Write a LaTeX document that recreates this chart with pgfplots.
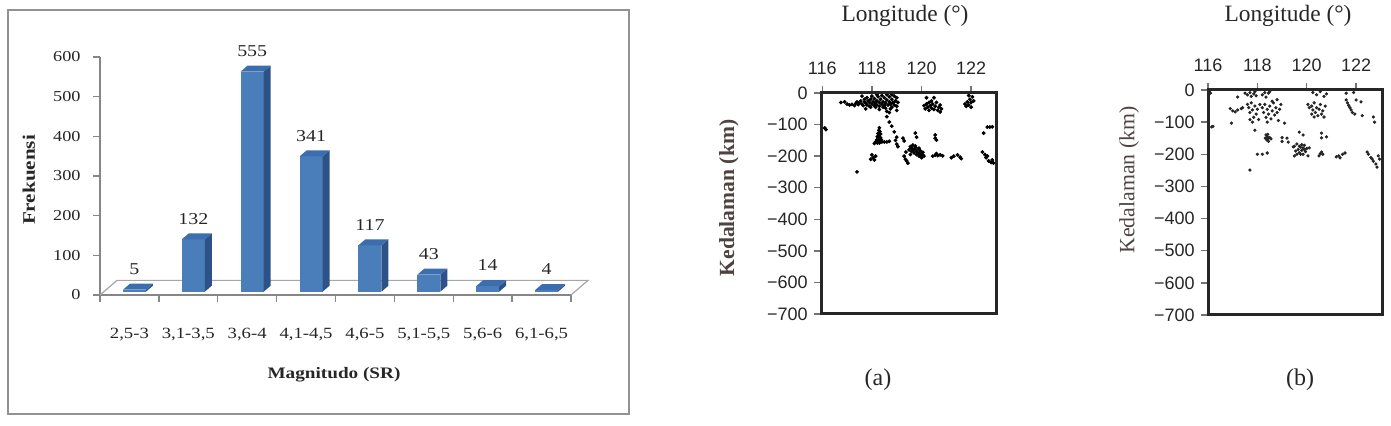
\documentclass[border=0pt]{standalone}
\usepackage{fontspec}
\setmainfont{Liberation Serif}
\newfontfamily\lsans{Liberation Sans}
\newfontfamily\wserif[FakeStretch=1.2]{Liberation Serif}
\usepackage{pgfplots}
\pgfplotsset{compat=1.18}

\definecolor{barfront}{HTML}{4A7EBB}
\definecolor{barside}{HTML}{2D5288}
\definecolor{bartop}{HTML}{3C6DAE}
\definecolor{chartgray}{HTML}{868686}
\definecolor{floorgray}{HTML}{A6A6A6}
\definecolor{labelbrown}{HTML}{4E4341}

% 3-D column: front face, right side and top, hung from the data point (i, value)
\pgfdeclareplotmark{prism}{%
  \pgfmathsetlengthmacro\yb{1.65-\barh*0.198333}%
  \pgfmathsetlengthmacro\ybb{4.65-\barh*0.198333}%
  \pgfsetfillcolor{barfront}%
  \pgfpathrectanglecorners{\pgfpoint{-3.25pt}{\yb}}{\pgfpoint{8.25pt}{1.65pt}}%
  \pgfusepath{fill}%
  \pgfsetfillcolor{barside}%
  \pgfpathmoveto{\pgfpoint{8.25pt}{\yb}}%
  \pgfpathlineto{\pgfpoint{11.75pt}{\ybb}}%
  \pgfpathlineto{\pgfpoint{11.75pt}{4.65pt}}%
  \pgfpathlineto{\pgfpoint{8.25pt}{1.65pt}}%
  \pgfpathclose
  \pgfusepath{fill}%
  \pgfsetfillcolor{bartop}%
  \pgfpathmoveto{\pgfpoint{-3.25pt}{1.65pt}}%
  \pgfpathlineto{\pgfpoint{8.25pt}{1.65pt}}%
  \pgfpathlineto{\pgfpoint{11.75pt}{4.65pt}}%
  \pgfpathlineto{\pgfpoint{0.25pt}{4.65pt}}%
  \pgfpathclose
  \pgfusepath{fill}%
}

\pgfplotsset{
  depthaxis/.style={
    scale only axis,
    ymin=-700, ymax=0,
    xtick={116,118,120,122},
    ytick={-700,-600,...,0},
    yticklabels={−700,−600,−500,−400,−300,−200,−100,0},
    xtick pos=upper, xticklabel pos=upper, ytick pos=left,
    tick align=outside, major tick length=3.5pt,
    major tick style={black!55, line width=0.7pt},
    axis line style={line width=1.3pt, black!85},
    /pgf/number format/assume math mode=true,
    xticklabel style={font=\lsans\fontsize{9}{9}\selectfont, anchor=base, yshift=5.8pt, inner sep=0pt, text=black!85},
    yticklabel style={font=\lsans\fontsize{9}{9}\selectfont, anchor=east, xshift=-3pt, inner sep=0pt, text=black!85},
    clip=false,
  },
}

\begin{document}
\begin{tikzpicture}
\path[use as bounding box] (0,0) rectangle (695.5pt,213pt);

% ---------------- magnitude histogram ----------------
\draw[chartgray!90, line width=1pt] (4pt,6pt) rectangle (314.5pt,208pt);
\begin{axis}[
  name=hist,
  at={(50pt,65.5pt)}, anchor=south west,
  scale only axis, width=235.5pt, height=119pt,
  xmin=-0.5, xmax=7.5, ymin=0, ymax=600,
  axis lines*=left,
  axis line style={chartgray, line width=0.6pt},
  xtick={0,...,7},
  xticklabels={{2,5-3},{3,1-3,5},{3,6-4},{4,1-4,5},{4,6-5},{5,1-5,5},{5,6-6},{6,1-6,5}},
  major x tick style={draw=none},
  minor xtick={-0.5,0.5,...,7.5},
  ytick={0,100,...,600},
  tick align=outside, major tick length=3.5pt, minor tick length=3.5pt,
  minor x tick style={chartgray, line width=0.7pt},
  major y tick style={chartgray, line width=0.7pt},
  /pgf/number format/assume math mode=true,
  xticklabel style={font=\wserif\fontsize{7.8}{9}\selectfont, anchor=base, yshift=-18.2pt, inner sep=0pt, text=black!85},
  yticklabel style={font=\wserif\fontsize{7.6}{8}\selectfont, anchor=east, xshift=-6pt, inner sep=0pt, text=black!85},
  clip=false,
]
\draw[floorgray, line width=0.6pt] (axis cs:-0.5,0) -- ++(8.5pt,7.3pt)
  -- ([shift={(8.5pt,7.3pt)}]axis cs:7.5,0) -- (axis cs:7.5,0);
\addplot[scatter, only marks, mark=prism,
  point meta=y,
  visualization depends on={rawy\as\barh},
  scatter/@pre marker code/.code={},
  scatter/@post marker code/.code={},
  nodes near coords,
  nodes near coords style={font=\wserif\fontsize{8.3}{10}\selectfont, anchor=center,
    xshift=2.5pt, yshift=12pt, text=black!85},
] coordinates {(0,5) (1,132) (2,555) (3,341) (4,117) (5,43) (6,14) (7,4)};
\end{axis}
\node[rotate=90, font=\wserif\bfseries\fontsize{8.8}{10}\selectfont, text=black!85] at (14.5pt,123pt) {Frekuensi};
\node[font=\wserif\bfseries\fontsize{8}{10}\selectfont, text=black!85] at (167pt,25.5pt) {Magnitudo (SR)};

% ---------------- depth section (a) ----------------
\begin{axis}[depthaxis, name=secA,
  at={(410.5pt,56pt)}, anchor=south west, width=87.5pt, height=110.5pt,
  xmin=115.95, xmax=123,
]
\addplot[only marks, mark=*, mark size=0.75pt, black] coordinates {
(116.75,-30)(116.9,-28)(117.0,-35)(117.1,-38)(117.2,-36)(117.3,-40)(117.35,-33)(117.4,-28)
(117.45,-37)(117.5,-30)(117.55,-25)(117.6,-35)(117.6,-10)(117.65,-40)(117.7,-28)(117.7,-20)
(117.75,-32)(117.75,-50)(117.8,-38)(117.8,-15)(117.85,-25)(117.9,-30)(117.9,-42)(117.95,-20)
(117.95,-45)(118.0,-35)(118.0,-10)(118.05,-28)(118.1,-40)(118.1,-18)(118.15,-32)(118.15,-45)
(118.2,-25)(118.2,-38)(118.2,-5)(118.25,-12)(118.3,-30)(118.3,-42)(118.3,-52)(118.35,-20)
(118.4,-35)(118.4,-8)(118.45,-28)(118.45,-45)(118.5,-40)(118.5,-15)(118.55,-32)(118.55,-48)
(118.6,-22)(118.6,-5)(118.6,-58)(118.65,-38)(118.7,-28)(118.7,-12)(118.7,-62)(118.75,-35)
(118.75,-50)(118.8,-20)(118.8,-45)(118.8,-5)(118.85,-30)(118.9,-10)(118.9,-38)(118.95,-25)
(119.0,-42)(119.0,-15)(119.0,-55)(119.05,-30)
(118.6,-75)(118.7,-92)(118.8,-105)(118.9,-123)
(116.1,-111)(116.15,-116)
(120.1,-40)(120.15,-50)(120.2,-35)(120.2,-15)(120.25,-45)(120.3,-55)(120.3,-30)(120.35,-40)
(120.4,-48)(120.4,-25)(120.45,-35)(120.5,-52)(120.5,-15)(120.55,-42)(120.6,-30)(120.65,-55)
(120.7,-45)(120.75,-38)(120.75,-60)(120.8,-50)
(121.75,-35)(121.8,-42)(121.85,-28)(121.9,-38)(121.9,-8)(121.95,-20)(122.0,-30)(122.0,-45)
(122.05,-12)(122.1,-25)
(118.3,-110)(118.28,-118)(118.32,-122)(118.25,-128)(118.3,-132)(118.35,-130)(118.22,-138)
(118.28,-140)(118.35,-142)(118.2,-148)(118.25,-150)(118.3,-152)(118.38,-148)(118.15,-155)
(118.22,-158)(118.3,-158)(118.4,-155)(118.1,-160)(118.5,-155)(118.6,-155)(118.7,-153)
(118.95,-150)(119.0,-140)(119.0,-162)(119.05,-170)(119.25,-143)(119.3,-152)(119.37,-187)
(119.3,-200)(119.35,-210)(119.4,-215)(119.45,-222)
(118.0,-196)(118.05,-205)(118.15,-200)(117.95,-210)(118.1,-212)
(117.4,-250)
(119.75,-127)(119.8,-140)(120.55,-133)(120.55,-143)(120.6,-149)
(119.5,-180)(119.55,-170)(119.55,-195)(119.6,-175)(119.6,-185)(119.65,-165)(119.65,-178)
(119.7,-180)(119.7,-190)(119.75,-172)(119.75,-168)(119.8,-185)(119.8,-195)(119.85,-178)
(119.85,-192)(119.9,-190)(119.9,-200)(119.9,-175)(119.95,-183)(119.95,-198)(120.0,-195)
(120.0,-205)(120.05,-188)(120.05,-196)(120.1,-200)
(120.45,-200)(120.55,-197)(120.6,-192)(120.65,-198)(120.75,-196)(120.85,-199)
(121.2,-205)(121.3,-200)(121.45,-196)(121.55,-203)(121.6,-208)
(122.45,-187)(122.55,-195)(122.6,-205)(122.65,-200)(122.7,-215)(122.8,-220)(122.85,-212)(122.9,-222)
(122.65,-108)(122.75,-108)(122.85,-107)(122.5,-127)
};
\end{axis}
\draw[line width=1.5pt, black!85] (secA.south west) rectangle (secA.north east);
\node[font=\fontsize{11.7}{12}\selectfont, text=black!85] at (452.5pt,205pt) {Longitude (°)};
\node[rotate=90, font=\bfseries\fontsize{10.8}{11}\selectfont, text=labelbrown] at (364.5pt,114pt) {Kedalaman (km)};
\node[font=\fontsize{12}{12}\selectfont, text=black!85] at (439pt,23pt) {(a)};

% ---------------- depth section (b) ----------------
\begin{axis}[depthaxis, name=secB,
  at={(604pt,55.5pt)}, anchor=south west, width=87pt, height=112.5pt,
  xmin=116, xmax=123.05,
]
\addplot[only marks, mark=*, mark size=0.6pt, black!85] coordinates {
(116.05,-5)(116.1,-10)(116.15,-115)(116.2,-113)
(116.95,-103)
(116.9,-58)(117.0,-65)(117.1,-68)(117.2,-62)(117.35,-58)(117.4,-55)(117.2,-22)
(117.5,-10)(117.6,-15)(117.7,-8)(117.75,-20)(117.85,-12)(117.9,-5)(117.95,-18)
(117.6,-45)(117.65,-55)(117.7,-70)(117.75,-40)(117.8,-62)(117.85,-85)(117.9,-50)(117.95,-75)
(118.0,-60)(118.05,-92)(118.1,-45)(117.7,-92)(117.8,-100)
(118.2,-15)(118.3,-8)(118.35,-22)(118.45,-10)(118.5,-5)
(118.2,-55)(118.25,-70)(118.3,-45)(118.35,-85)(118.4,-60)(118.45,-75)(118.5,-50)(118.55,-90)
(118.6,-65)(118.65,-40)(118.7,-78)(118.75,-55)(118.8,-70)(118.85,-95)(118.9,-60)(118.95,-45)
(118.4,-100)(118.6,-35)(118.8,-30)
(117.9,-125)
(118.35,-140)(118.4,-145)(118.45,-150)(118.38,-155)(118.42,-138)(118.5,-148)(118.32,-150)
(118.45,-160)(118.4,-152)(118.55,-152)
(119.1,-103)(119.0,-148)(119.0,-160)(119.2,-150)(119.25,-162)(119.45,-177)
(118.0,-200)(118.2,-200)(118.4,-196)
(117.7,-249)
(120.25,-8)(120.4,-15)(120.55,-5)(120.7,-20)(120.8,-12)
(120.05,-45)(120.1,-55)(120.2,-50)(120.25,-62)(120.3,-40)(120.35,-70)(120.4,-55)(120.45,-80)
(120.5,-60)(120.55,-45)(120.6,-75)(120.65,-65)(120.7,-84)(120.75,-50)(120.3,-84)(120.2,-75)
(121.6,-31)(121.65,-40)(121.7,-48)(121.75,-55)(121.8,-62)(121.85,-70)(121.95,-75)(122.0,-31)
(122.2,-37)(121.6,-10)(121.9,-8)(122.25,-80)
(122.7,-84)(122.75,-100)
(119.7,-131)(119.85,-140)
(120.6,-134)(120.6,-149)(120.8,-146)
(119.5,-175)(119.55,-190)(119.6,-168)(119.65,-185)(119.7,-195)(119.75,-178)(119.8,-188)
(119.85,-200)(119.9,-172)(119.95,-192)(120.0,-182)(120.05,-205)(119.7,-175)(119.8,-170)
(119.6,-200)(119.9,-185)(119.75,-200)(119.85,-180)(119.5,-205)(120.1,-180)
(120.5,-205)(120.55,-198)(120.6,-193)(120.65,-200)
(121.2,-208)(121.3,-205)(121.45,-200)(121.55,-196)(121.35,-211)
(122.45,-193)(122.5,-200)(122.6,-210)(122.65,-215)(122.7,-222)(122.8,-230)(122.85,-240)
(122.9,-205)(122.95,-215)
};
\end{axis}
\draw[line width=1.5pt, black!85] (secB.south west) rectangle (secB.north east);
\node[font=\fontsize{11.7}{12}\selectfont, text=black!85] at (644pt,205pt) {Longitude (°)};
\node[rotate=90, font=\fontsize{10.9}{11}\selectfont, text=labelbrown] at (564.5pt,123pt) {Kedalaman (km)};
\node[font=\fontsize{12}{12}\selectfont, text=black!85] at (650pt,23pt) {(b)};
\end{tikzpicture}
\end{document}
